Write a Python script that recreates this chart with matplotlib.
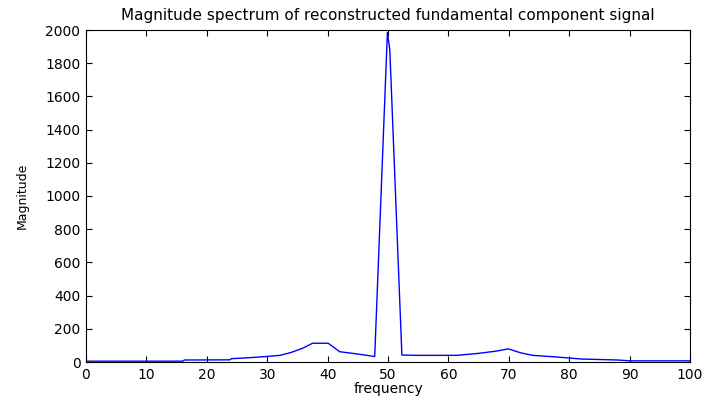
import matplotlib
matplotlib.use("Agg")
import matplotlib.pyplot as plt

freq = [0, 16, 16.3, 23.8, 24.1, 26.6, 29.1, 32.1, 34.0, 36.0, 37.5, 40.1, 42.0, 45.0, 47.8,
        49.9, 50.3, 52.3, 55.0, 61.4, 65.0, 68.0, 69.9, 72.0, 74.0, 78.0, 82.0, 88.0, 90.0, 100]
magnitude = [5, 5, 12, 13, 20, 25, 31, 40, 58, 85, 113, 113, 62, 48, 33,
             1985, 1880, 42, 40, 40, 52, 66, 79, 55, 40, 30, 18, 12, 7, 7]

xticks = [0, 10, 20, 30, 40, 50, 60, 70, 80, 90, 100]
yticks = [0, 200, 400, 600, 800, 1000, 1200, 1400, 1600, 1800, 2000]

plt.rcParams['font.family'] = ['DejaVu Sans']

fig = plt.figure(figsize=(7.02, 3.99), dpi=100)
ax = fig.add_axes([86/702, 1-362/399, 604/702, 332/399])
ax.plot(freq, magnitude, color='#0000ff', linewidth=1.0)
ax.set_xlim(0, 100)
ax.set_ylim(0, 2000)
ax.set_xticks(xticks)
ax.set_yticks(yticks)
ax.tick_params(direction='in', top=True, right=True, length=4, labelsize=10, pad=4)
for s in ax.spines.values():
    s.set_linewidth(0.8)
ax.set_title('Magnitude spectrum of reconstructed fundamental component signal', fontsize=11, pad=7)
ax.set_xlabel('frequency', fontsize=10, labelpad=0)
ax.set_ylabel('Magnitude', fontsize=9, labelpad=12)
fig.savefig('out.png', dpi=100)
